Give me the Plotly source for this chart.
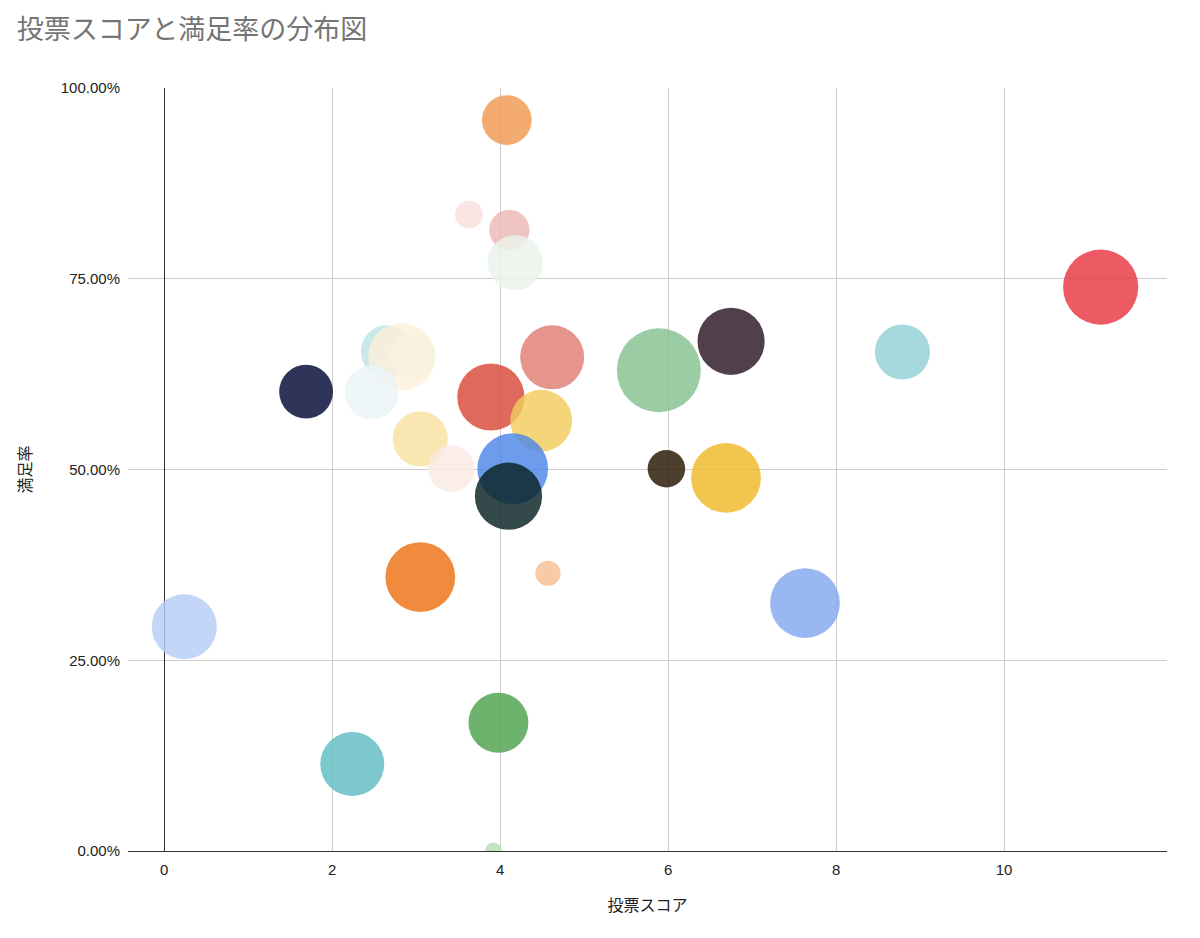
import plotly.graph_objects as go

# 投票スコア (x), 満足率 (y), 投票数 (bubble size), color of each item
vote_score = [4.08, 3.63, 4.11, 4.18, 11.15, 8.79, 6.75, 5.89, 4.62, 3.89,
              4.49, 4.15, 4.10, 2.65, 2.83, 2.95, 2.47, 1.69, 3.05, 3.42,
              5.98, 6.69, 4.57, 3.05, 7.63, 0.24, 3.98, 2.24, 3.92]
satisfaction = [0.958, 0.834, 0.814, 0.771, 0.739, 0.654, 0.668, 0.630, 0.647, 0.595,
                0.564, 0.501, 0.465, 0.655, 0.648, 0.649, 0.601, 0.602, 0.540, 0.501,
                0.501, 0.489, 0.364, 0.359, 0.325, 0.294, 0.168, 0.114, 0.0]
vote_count = [35, 11, 23, 43, 80, 43, 64, 100, 58, 64,
              54, 71, 64, 38, 64, 31, 41, 41, 43, 31,
              20, 69, 9, 69, 69, 60, 51, 58, 4]
colors = ["#F4AB70", "#F9E6E4", "#F0C4C0", "#EDF5EE", "#EC5A64", "#A6D9DD",
          "#51404B", "#9ACDA3", "#E5958C", "#DF6A5C", "#F5D57A", "#6E9CEC",
          "#344A4A", "#C9E8EA", "#FDF3E0", "#F8F4E6", "#EEF6F9", "#2E3558",
          "#F9E6B0", "#FBEDE8", "#4D3F2E", "#F2C54F", "#F8CBA6", "#F08A3C",
          "#99B7F0", "#C3D6F7", "#6DB36E", "#7CC8CC", "#C6E3C6"]

ALPHA = 0.82


def base_rgba(hex_color, a=ALPHA):
    # solve for the fill color that shows as hex_color over white at opacity a
    h = hex_color.lstrip("#")
    rgb = [int(h[i:i + 2], 16) for i in (0, 2, 4)]
    out = [max(0, min(255, round((c - 255 * (1 - a)) / a))) for c in rgb]
    return f"rgba({out[0]},{out[1]},{out[2]},{a})"


max_d = 84
sizeref = 2.0 * max(vote_count) / (max_d ** 2)

fig = go.Figure(go.Scatter(
    x=vote_score,
    y=satisfaction,
    mode="markers",
    marker=dict(
        size=vote_count,
        sizemode="area",
        sizeref=sizeref,
        color=[base_rgba(c) for c in colors],
        opacity=1,
        line=dict(width=0),
    ),
    cliponaxis=True,
    hoverinfo="x+y",
))

tick_font = dict(family="Liberation Sans, Arial, sans-serif", size=15, color="#222222")
cjk = "Noto Sans CJK JP, sans-serif"

fig.update_layout(
    width=1200, height=938,
    margin=dict(l=128, r=33, t=88, b=87),
    paper_bgcolor="white", plot_bgcolor="white",
    showlegend=False,
    title=dict(
        text="投票スコアと満足率の分布図",
        font=dict(family=cjk, size=27, color="#757575"),
        x=0.014, xanchor="left", y=0.968, yanchor="middle",
    ),
    xaxis=dict(
        range=[-0.43, 11.94],
        tickmode="array", tickvals=[0, 2, 4, 6, 8, 10],
        ticktext=["0", "2", "4", "6", "8", "10"],
        tickfont=tick_font,
        showgrid=True, gridcolor="#cccccc", gridwidth=1,
        zeroline=True, zerolinecolor="#333333", zerolinewidth=1,
        showline=True, linecolor="#333333", linewidth=1, mirror=False,
        ticks="", ticklabelstandoff=5,
        title=dict(text="投票スコア", standoff=22,
                   font=dict(family=cjk, size=16, color="#222222")),
    ),
    yaxis=dict(
        range=[0, 1],
        tickmode="array", tickvals=[0, 0.25, 0.5, 0.75, 1.0],
        tickformat=".2%",
        tickfont=tick_font,
        showgrid=True, gridcolor="#cccccc", gridwidth=1,
        zeroline=False, showline=False,
        ticks="", ticklabelstandoff=7,
        title=dict(text="満足率", standoff=25,
                   font=dict(family=cjk, size=16, color="#222222")),
    ),
)

fig.write_html("out.html")
